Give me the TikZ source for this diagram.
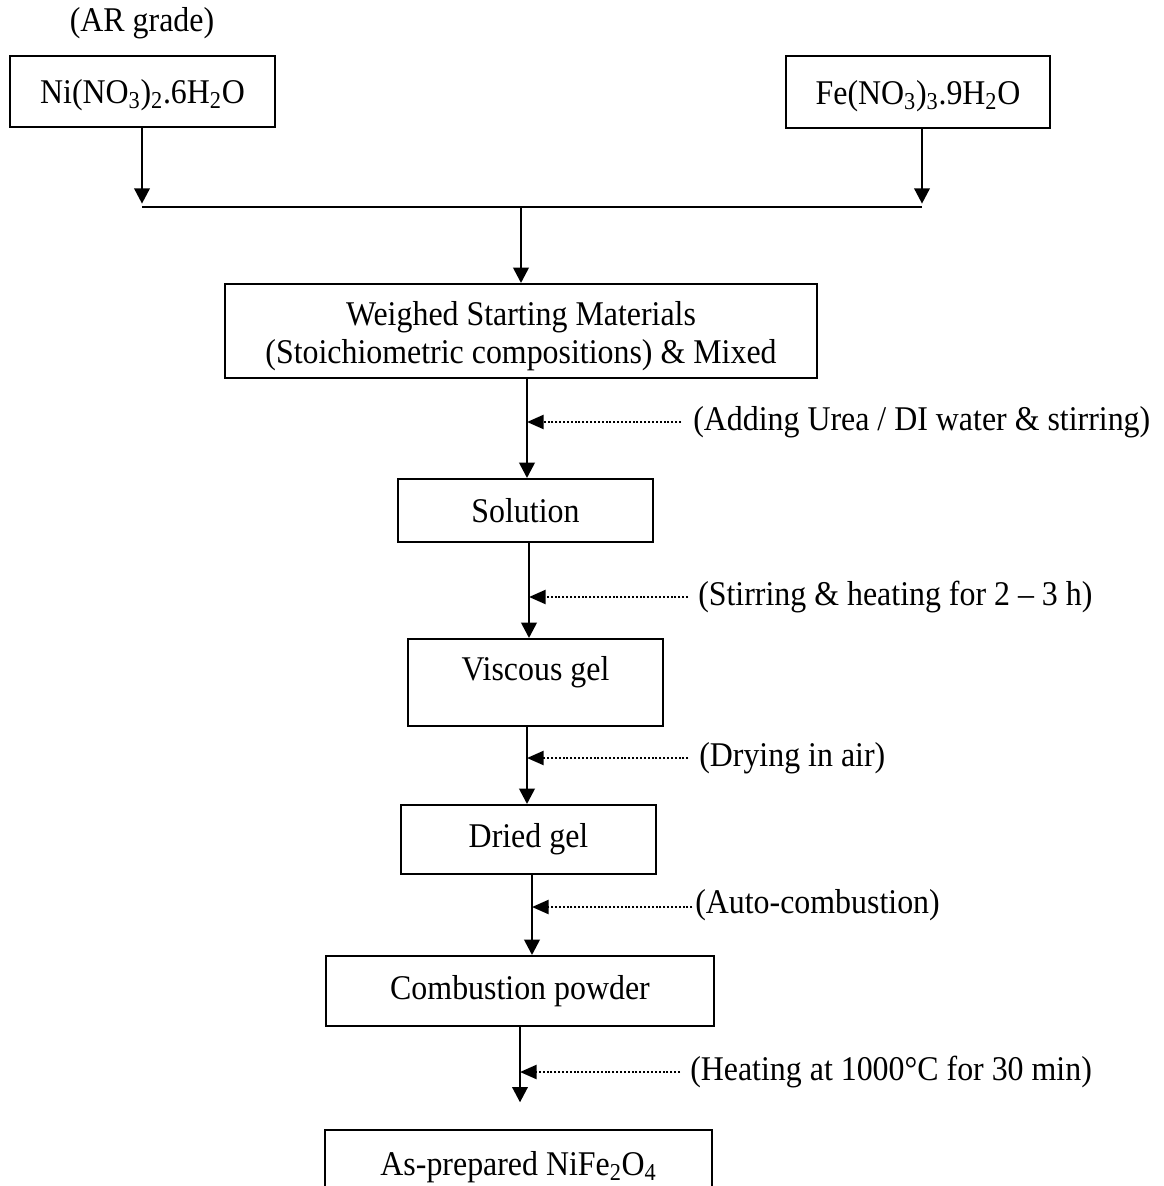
\documentclass[tikz,border=0pt]{standalone}
\usepackage{fontspec}
\setmainfont{Liberation Serif}[FakeStretch=0.92]
\usetikzlibrary{arrows.meta}
\begin{document}
\begin{tikzpicture}[x=0.75pt,y=-0.75pt,
  font=\fontsize{26}{28.5}\selectfont,
  bx/.style 2 args={draw, line width=1.5pt, inner sep=0pt, align=center,
    minimum width=#1*0.75pt, minimum height=#2*0.75pt},
  flow/.style={line width=2pt, -{Triangle[length=11.5pt,width=11.5pt]}},
  side/.style={line width=1.8pt, dash pattern=on 1.5pt off 1.4pt,
    -{Triangle[length=12.5pt,width=10.5pt]}},
  note/.style={anchor=west, inner sep=0pt},
  plain/.style={line width=1.5pt}]
\clip (0,0) rectangle (1164,1186);
\useasboundingbox (0,0) rectangle (1164,1186);

% header
\node[inner sep=0pt] (ar) at (142,23) {(AR grade)};

% boxes
\node[bx={265}{71}] (ni) at (142.5,91.5) {\raisebox{-3pt}[\height][\depth]{Ni(NO\textsubscript{3})\textsubscript{2}.6H\textsubscript{2}O}};
\node[bx={264}{72}] (fe) at (918,92) {\raisebox{-3pt}[\height][\depth]{Fe(NO\textsubscript{3})\textsubscript{3}.9H\textsubscript{2}O}};
\node[bx={592}{94}] (weigh) at (521,331) {\raisebox{-4pt}[\height][\depth]{Weighed Starting Materials}\\\raisebox{-4pt}[\height][\depth]{(Stoichiometric compositions) \& Mixed}};
\node[bx={255}{63}] (sol) at (525.5,510.5) {Solution};
\node[bx={255}{87}] (visc) at (535.5,682.5) {\raisebox{8pt}[\height][\depth]{Viscous gel}};
\node[bx={255}{69}] (dried) at (528.5,839.5) {Dried gel};
\node[bx={388}{70}] (comb) at (520,991) {Combustion powder};
\node[bx={387}{74}] (final) at (518.5,1167) {As-prepared NiFe\textsubscript{2}O\textsubscript{4}};

% side notes
\node[note] (t1) at (693,422) {(Adding Urea / DI water \& stirring)};
\node[note] (t2) at (698,597) {(Stirring \& heating for 2 – 3 h)};
\node[note] (t3) at (699,758) {(Drying in air)};
\node[note] (t4) at (695,905) {(Auto-combustion)};
\node[note] (t5) at (690,1072) {(Heating at 1000°C for 30 min)};

% junction
\coordinate (j1) at (142,207);
\coordinate (j2) at (922,207);
\coordinate (j0) at (521,207);
\draw[plain] (j1) -- (j2);
\draw[flow, shorten >=2.5pt] (ni.south -| j1) -- (j1);
\draw[flow, shorten >=2.5pt] (fe.south -| j2) -- (j2);
\draw[flow] (j0) -- (weigh.north);

% main flow
\coordinate (x1) at (527,422);
\coordinate (x2) at (529,597);
\coordinate (x3) at (527,758);
\coordinate (x4) at (532,907);
\coordinate (x5) at (520,1072);
\draw[flow] (weigh.south -| x1) -- (sol.north -| x1);
\draw[flow] (sol.south -| x2) -- (visc.north -| x2);
\draw[flow] (visc.south -| x3) -- (dried.north -| x3);
\draw[flow] (dried.south -| x4) -- (comb.north -| x4);
\draw[flow, shorten >=20pt] (comb.south -| x5) -- (final.north -| x5);

% dotted feeds
\draw[side, shorten <=9pt] (t1.west) -- (x1);
\draw[side, shorten <=7.5pt] (t2.west) -- (x2);
\draw[side, shorten <=8pt] (t3.west) -- (x3);
\draw[side, shorten <=2pt] (t4.west |- x4) -- (x4);
\draw[side, shorten <=7.5pt] (t5.west) -- (x5);
\end{tikzpicture}
\end{document}
